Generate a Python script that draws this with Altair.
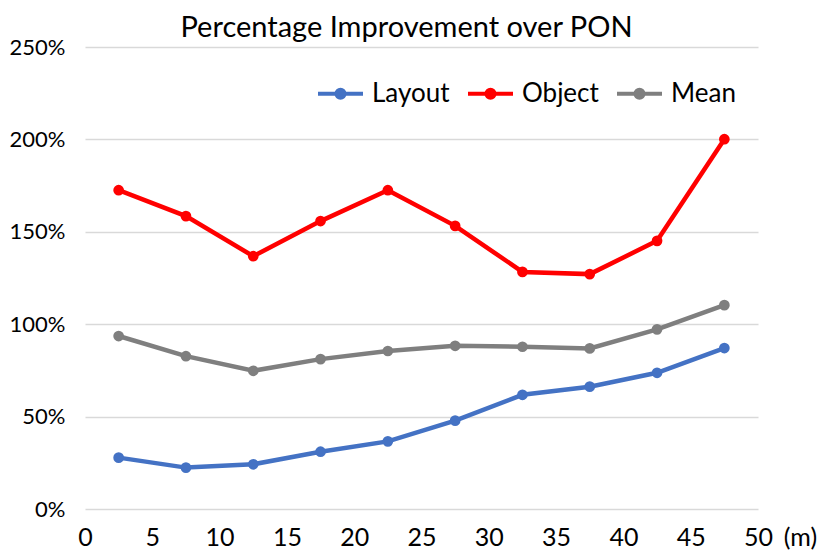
import altair as alt
import pandas as pd

distance = [2.5, 7.5, 12.5, 17.5, 22.5, 27.5, 32.5, 37.5, 42.5, 47.5]
layout_vals = [27.8, 22.4, 24.2, 31.0, 36.6, 47.8, 61.8, 66.2, 73.7, 87.1]
object_vals = [172.5, 158.5, 136.8, 155.8, 172.5, 153.2, 128.3, 127.1, 145.1, 200.1]
mean_vals = [93.6, 82.7, 74.8, 81.1, 85.5, 88.3, 87.8, 86.9, 97.2, 110.3]
series = ["Layout", "Object", "Mean"]
colors = ["#4472C4", "#FF0000", "#7F7F7F"]
x_ticks = [0, 5, 10, 15, 20, 25, 30, 35, 40, 45, 50]
y_ticks = [0, 50, 100, 150, 200, 250]

rows = []
for name, vals in zip(series, [layout_vals, object_vals, mean_vals]):
    for d, v in zip(distance, vals):
        rows.append({"distance": d, "value": v, "series": name})
df = pd.DataFrame(rows)

FONT = "Lato"

legend_symbol = (
    "M-1,0L1,0"
    " M0.18,0A0.18,0.18 0 1,1 -0.18,0A0.18,0.18 0 1,1 0.18,0"
    " M0.09,0A0.09,0.09 0 1,1 -0.09,0A0.09,0.09 0 1,1 0.09,0"
)

legend = alt.Legend(
    title=None,
    orient="none",
    legendX=231,
    legendY=22,
    direction="horizontal",
    symbolType=legend_symbol,
    symbolSize=2025,
    symbolStrokeWidth=4,
    symbolOpacity=1,
    labelFont=FONT,
    labelFontSize=26,
    labelColor="#000000",
    labelOffset=7,
    columnPadding=10,
    padding=0,
)

color = alt.Color(
    "series:N",
    scale=alt.Scale(domain=series, range=colors),
    sort=series,
    legend=legend,
)

x = alt.X(
    "distance:Q",
    scale=alt.Scale(domain=[0, 50], nice=False, zero=True),
    axis=alt.Axis(
        values=x_ticks,
        grid=False,
        domain=False,
        ticks=False,
        labelFlush=False,
        labelFont=FONT,
        labelFontSize=25,
        labelColor="#000000",
        labelPadding=16,
        labelBaseline="top",
        title="(m)",
        titleFont=FONT,
        titleFontSize=25,
        titleFontWeight="normal",
        titleColor="#000000",
        titleX=715,
        titleY=16,
        titleAlign="center",
        titleBaseline="top",
    ),
)

y = alt.Y(
    "value:Q",
    scale=alt.Scale(domain=[0, 250], nice=False),
    axis=alt.Axis(
        values=y_ticks,
        labelExpr="datum.value + '%'",
        domain=False,
        ticks=False,
        grid=True,
        gridColor="#D9D9D9",
        gridWidth=1.5,
        labelFont=FONT,
        labelFontSize=22,
        labelColor="#000000",
        labelPadding=20,
        title=None,
    ),
)

base = alt.Chart(df).encode(x=x, y=y, color=color, detail="series:N")

lines = base.mark_line(strokeWidth=4.5)
points = base.mark_circle(size=115, opacity=1)

chart = (
    alt.layer(lines, points)
    .properties(
        width=673,
        height=462,
        title=alt.TitleParams(
            "Percentage Improvement over PON",
            font=FONT,
            fontSize=29,
            fontWeight="normal",
            color="#000000",
            anchor="middle",
            dx=-15,
            dy=10,
            offset=3,
        ),
        autosize=alt.AutoSizeParams(type="none"),
        padding={"left": 77, "top": 39, "right": 62, "bottom": 44},
    )
    .configure_view(stroke=None)
)

chart.save("out.html", embed_options={"renderer": "svg", "actions": False})
